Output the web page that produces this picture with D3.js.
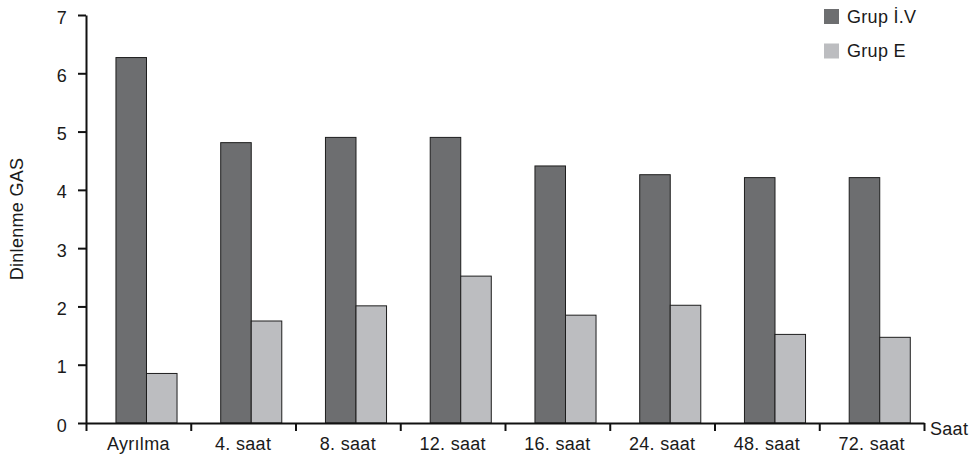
<!DOCTYPE html>
<html>
<head>
<meta charset="utf-8">
<script src="https://cdn.jsdelivr.net/npm/d3@7"></script>
<style>
  body { margin: 0; background: #fff; }
  text { font-family: "Liberation Sans", Arial, sans-serif; font-size: 18px; letter-spacing: 0.3px; fill: #1a1a1a; }
</style>
</head>
<body>
<div id="chart"></div>
<script>
// categories and series
const categories = ["Ayrılma", "4. saat", "8. saat", "12. saat", "16. saat", "24. saat", "48. saat", "72. saat"];
const groups = ["Grup İ.V", "Grup E"];
const grupIV = [6.27, 4.81, 4.90, 4.90, 4.41, 4.26, 4.21, 4.21];
const grupE = [0.85, 1.75, 2.01, 2.52, 1.85, 2.02, 1.52, 1.47];
const yTicks = [0, 1, 2, 3, 4, 5, 6, 7];

const colors = ["#6d6e70", "#bcbdc0"];

const width = 972, height = 459;
const margin = {top: 15, right: 48, bottom: 36, left: 86};
const innerW = width - margin.left - margin.right;
const innerH = height - margin.top - margin.bottom;

const data = categories.map((c, i) => ({
    key: c,
    values: [{group: groups[0], value: grupIV[i]}, {group: groups[1], value: grupE[i]}]
}));

const svg = d3.select("#chart").append("svg")
    .attr("width", width)
    .attr("height", height);
const chart = svg.append("g")
    .attr("transform", `translate(${margin.left},${margin.top})`);

const xScale = d3.scaleBand()
    .domain(categories)
    .range([0, innerW]);
const bw = xScale.bandwidth();
const x1 = d3.scaleBand()
    .domain(groups)
    .range([bw * 0.286, bw * 0.869]);
const yScale = d3.scaleLinear()
    .domain([0, 7])
    .range([innerH, 0]);
const colorScale = d3.scaleOrdinal().domain(groups).range(colors);

// bars
chart.selectAll(".bar")
    .data(data)
    .enter().append("g")
    .attr("class", "bar")
    .attr("transform", d => `translate(${xScale(d.key)},0)`)
  .selectAll("rect")
    .data(d => d.values)
  .enter().append("rect")
    .attr("x", d => x1(d.group))
    .attr("y", d => yScale(d.value))
    .attr("width", x1.bandwidth())
    .attr("height", d => innerH - yScale(d.value))
    .attr("fill", d => colorScale(d.group))
    .attr("stroke", "#1e1e1e")
    .attr("stroke-width", 1);

// y axis
const yAxis = chart.append("g")
    .call(d3.axisLeft(yScale).tickValues(yTicks).tickFormat(d3.format("d"))
        .tickSize(8).tickPadding(11).tickSizeOuter(0));
yAxis.selectAll("text").attr("dy", "0.45em");

// x axis: labels centred on bands, ticks on band edges
const xAxis = chart.append("g")
    .attr("transform", `translate(0,${innerH})`)
    .call(d3.axisBottom(xScale).tickSize(0).tickPadding(14).tickSizeOuter(0));
xAxis.selectAll("text").attr("dy", "0.71em");

const edgeScale = d3.scaleLinear().domain([0, categories.length]).range([0, innerW]);
chart.append("g")
    .attr("transform", `translate(0,${innerH})`)
    .call(d3.axisBottom(edgeScale).tickValues(d3.range(0, categories.length + 1)).tickSize(8).tickFormat("").tickSizeOuter(0))
    .select(".domain").remove();

chart.selectAll(".domain, .tick line")
    .attr("stroke", "#111")
    .attr("stroke-width", 2);
chart.selectAll(".tick text").attr("fill", "#1a1a1a");

// axis titles
svg.append("text")
    .attr("transform", `translate(23,${margin.top + innerH / 2}) rotate(-90)`)
    .attr("text-anchor", "middle")
    .text("Dinlenme GAS");
svg.append("text")
    .attr("x", margin.left + innerW + 6)
    .attr("y", margin.top + innerH + 12)
    .text("Saat");

// legend
const legend = svg.append("g").attr("transform", "translate(824,9)");
groups.forEach((g, i) => {
    legend.append("rect")
        .attr("x", 0)
        .attr("y", i * 34.5)
        .attr("width", 15)
        .attr("height", 15)
        .attr("fill", colorScale(g));
    legend.append("text")
        .attr("x", 23)
        .attr("y", i * 34.5 + 13.5)
        .text(g);
});
</script>
</body>
</html>
